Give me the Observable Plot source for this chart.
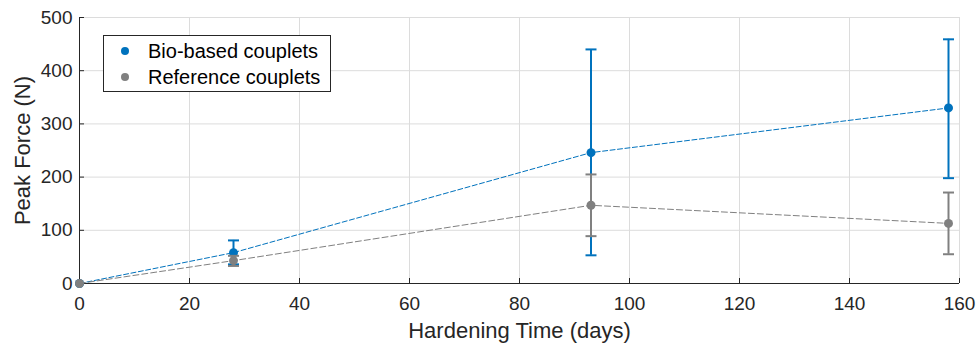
<!DOCTYPE html>
<html>
<head>
<meta charset="utf-8">
<script src="https://cdn.jsdelivr.net/npm/d3@7"></script>
<script src="https://cdn.jsdelivr.net/npm/@observablehq/plot@0.6"></script>
<style>
  html, body { margin: 0; padding: 0; background: #fff; }
  #wrap { position: relative; width: 977px; height: 344px; font-family: "Liberation Sans", Arial, sans-serif; }
  #legend { position: absolute; left: 103px; top: 35px; width: 228px; height: 57px; background: #fff; border: 1px solid #262626; box-sizing: border-box; }
  .lt { position: absolute; font-size: 20px; line-height: 20px; color: #000; white-space: nowrap; }
  .sw { position: absolute; width: 8px; height: 8px; border-radius: 50%; }
</style>
</head>
<body>
<div id="wrap"></div>
<script>
const days = [0, 28, 93, 158];
const bioMean = [0, 58, 246, 330];
const bioLo = [0, 36, 53, 198];
const bioHi = [0, 81, 440, 459];
const refMean = [0, 43, 147, 113];
const refLo = [0, 33, 89, 55];
const refHi = [0, 52, 205, 171];
const seriesNames = ["Bio-based couplets", "Reference couplets"];
const xTicks = [0, 20, 40, 60, 80, 100, 120, 140, 160];
const yTicks = [0, 100, 200, 300, 400, 500];
const xLabel = "Hardening Time (days)";
const yLabel = "Peak Force (N)";

const blue = "#0072BD", gray = "#808080", ink = "#262626";
const W = 977, H = 344, mL = 79, mR = 18, mT = 17, mB = 61;

const bio = days.map((d, i) => ({x: d, y: bioMean[i], lo: bioLo[i], hi: bioHi[i]}));
const ref = days.map((d, i) => ({x: d, y: refMean[i], lo: refLo[i], hi: refHi[i]}));

const capSymbol = {
  draw(context, size) {
    const r = Math.sqrt(size / Math.PI);
    context.moveTo(-r, 0);
    context.lineTo(r, 0);
  }
};

function series(data, color, dash) {
  const e = data.filter(d => d.hi > d.lo);
  return [
    Plot.line(data, {x: "x", y: "y", stroke: color, strokeWidth: 1, strokeDasharray: dash}),
    Plot.ruleX(e, {x: "x", y1: "lo", y2: "hi", stroke: color, strokeWidth: 2}),
    Plot.dot(e, {x: "x", y: "lo", symbol: capSymbol, r: 5.5, stroke: color, strokeWidth: 2}),
    Plot.dot(e, {x: "x", y: "hi", symbol: capSymbol, r: 5.5, stroke: color, strokeWidth: 2}),
    Plot.dot(data, {x: "x", y: "y", r: 4.5, fill: color, stroke: "none"})
  ];
}

const chart = Plot.plot({
  width: W, height: H,
  marginLeft: mL, marginRight: mR, marginTop: mT, marginBottom: mB,
  style: {fontFamily: '"Liberation Sans", Arial, sans-serif', fontSize: "19px", color: ink, background: "#fff"},
  x: {domain: [0, 160]},
  y: {domain: [0, 500]},
  marks: [
    Plot.gridX(xTicks, {stroke: "#dcdcdc", strokeOpacity: 1}),
    Plot.gridY(yTicks, {stroke: "#dcdcdc", strokeOpacity: 1}),
    Plot.tickX(xTicks, {x: d => d, stroke: ink, insetTop: H - mT - mB - 5}),
    Plot.tickY(yTicks, {y: d => d, stroke: ink, insetRight: W - mL - mR - 5}),
    Plot.ruleX([0], {stroke: ink}),
    Plot.ruleY([0], {stroke: ink}),
    Plot.axisX(xTicks, {tickSize: 0, tickPadding: 13, fontSize: 19, fill: ink, label: xLabel, labelAnchor: "center", labelArrow: "none", labelOffset: 54}),
    Plot.axisY(yTicks, {tickSize: 0, tickPadding: 7, fontSize: 19, fill: ink, label: yLabel, labelAnchor: "center", labelArrow: "none", labelOffset: 65}),
    ...series(bio, blue, "5,2.5"),
    ...series(ref, gray, "6,3")
  ]
});

chart.querySelectorAll("[aria-label='x-axis label'] text, [aria-label='y-axis label'] text").forEach(t => t.setAttribute("font-size", "22px"));

const wrap = document.getElementById("wrap");
wrap.appendChild(chart);

const legend = document.createElement("div");
legend.id = "legend";
wrap.appendChild(legend);
[blue, gray].forEach((c, i) => {
  const sw = document.createElement("div");
  sw.className = "sw";
  sw.style.background = c;
  sw.style.left = (125 - 4) + "px";
  sw.style.top = (50.5 + i * 26 - 4) + "px";
  wrap.appendChild(sw);
  const tx = document.createElement("div");
  tx.className = "lt";
  tx.style.left = "148px";
  tx.style.top = (41 + i * 26) + "px";
  tx.textContent = seriesNames[i];
  wrap.appendChild(tx);
});
</script>
</body>
</html>
